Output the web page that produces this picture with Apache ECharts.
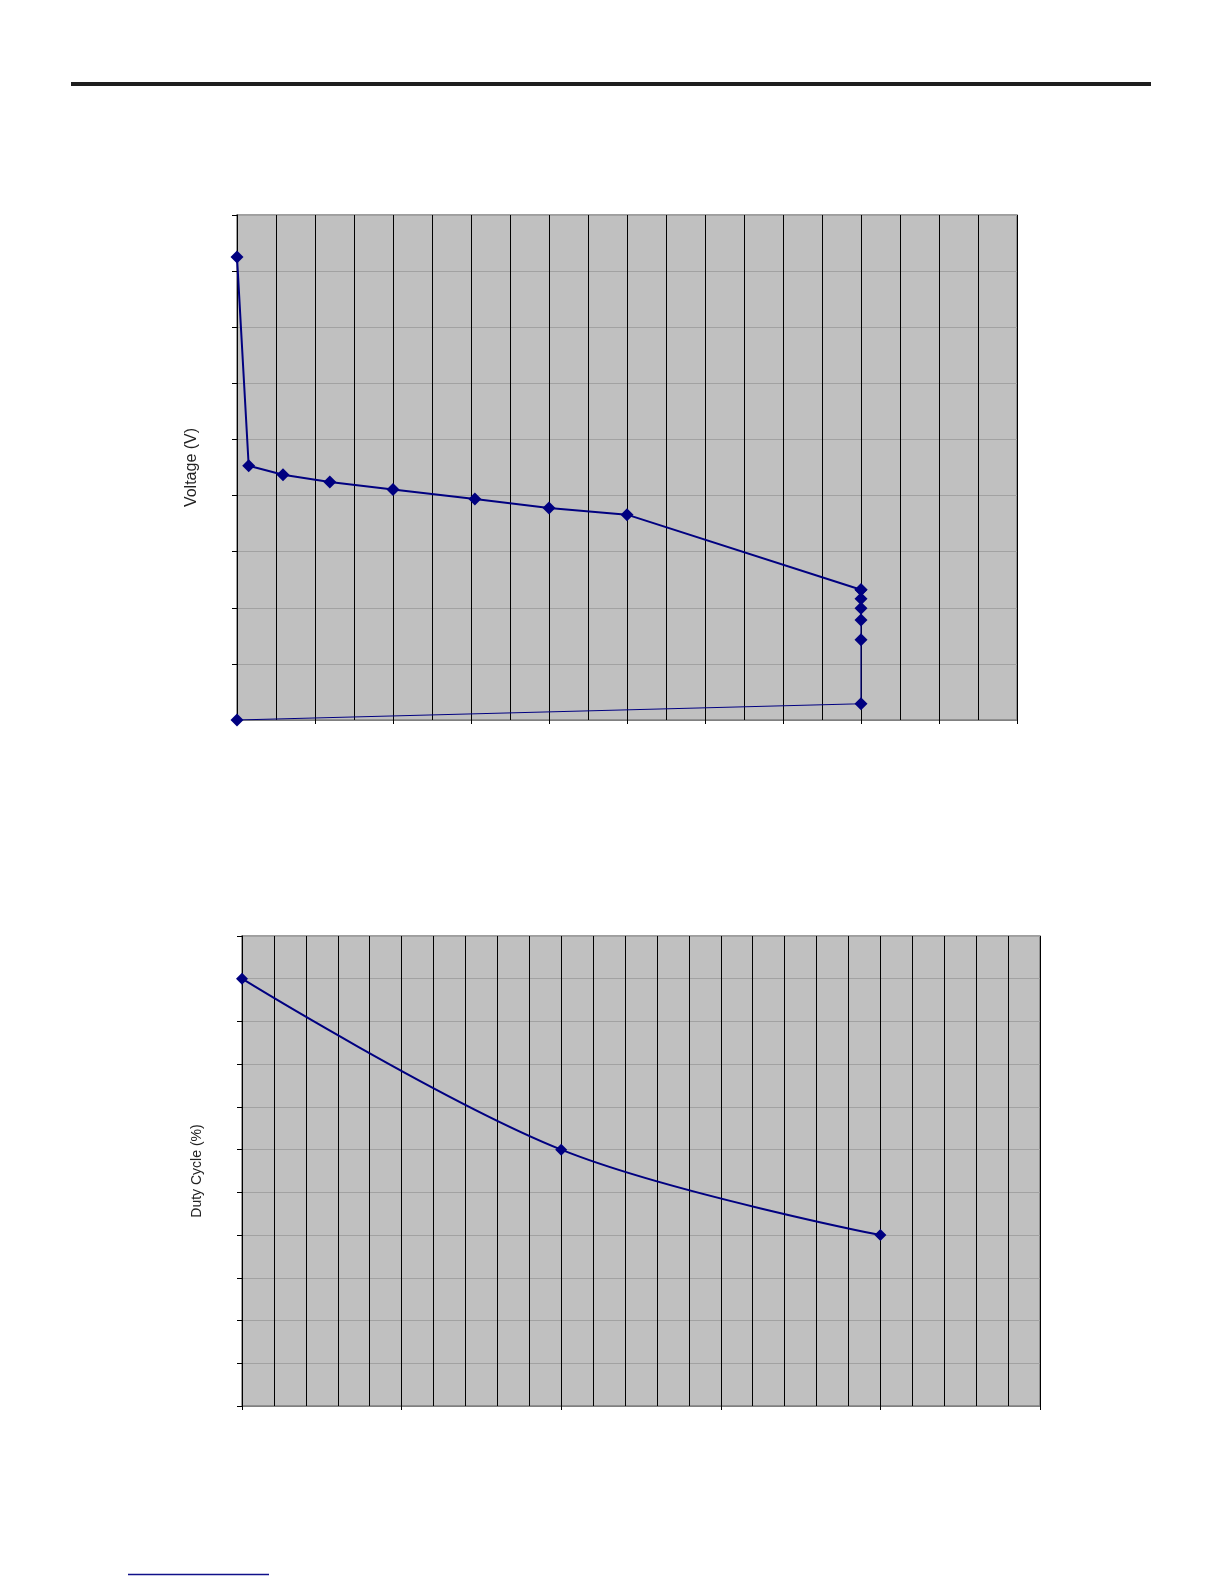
<!DOCTYPE html>
<html>
<head>
<meta charset="utf-8">
<script src="https://cdn.jsdelivr.net/npm/echarts@6/dist/echarts.min.js"></script>
<style>
html,body{margin:0;padding:0;background:#fff;}
#chart{width:1224px;height:1584px;}
</style>
</head>
<body>
<div id="chart"></div>
<script>
// Chart 1: Voltage (V) vs unlabeled x (gridline units)
const voltageX = [0, 0.3, 1.18, 2.38, 4.0, 6.1, 8.0, 10.0, 16.0, 16.0, 16.0, 16.0, 16.0, 16.0, 0];
const voltageY = [8.25, 4.53, 4.37, 4.24, 4.11, 3.94, 3.78, 3.66, 2.32, 2.16, 1.99, 1.78, 1.43, 0.29, 0];
// Chart 2: Duty Cycle (%) vs unlabeled x
const dutyX = [0, 10, 20];
const dutyY = [10, 6, 4];

const voltageTitle = 'Voltage (V)';
const dutyTitle = 'Duty Cycle (%)';

const pairs = (xs, ys) => xs.map((x, i) => [x, ys[i]]);
const vPts = pairs(voltageX, voltageY);
const splitIdx = 8;

const navy = '#000080';
const plotBg = '#c0c0c0';
const hGrid = '#a2a2a2';

function xAxisCfg(gridIndex, max, interval, minorSplit) {
  return {
    type: 'value', gridIndex: gridIndex, min: 0, max: max, interval: interval,
    axisLine: {show: true, lineStyle: {color: '#808080', width: 1}},
    axisTick: {show: true, length: 4, lineStyle: {color: '#000'}},
    axisLabel: {show: false},
    splitLine: {show: true, lineStyle: {color: '#000', width: 1}},
    minorTick: {show: false, splitNumber: minorSplit},
    minorSplitLine: {show: true, lineStyle: {color: '#000', width: 1}}
  };
}
function yAxisCfg(gridIndex, max, name, gap, fs) {
  return {
    type: 'value', gridIndex: gridIndex, min: 0, max: max, interval: 1,
    name: name, nameLocation: 'middle', nameRotate: 90, nameGap: gap,
    nameTextStyle: {fontFamily: 'Liberation Sans, Arial, sans-serif', fontSize: fs, color: '#222'},
    axisLine: {show: true, lineStyle: {color: '#000', width: 1}},
    axisTick: {show: true, length: 5, lineStyle: {color: '#000'}},
    axisLabel: {show: false},
    splitLine: {show: true, lineStyle: {color: hGrid, width: 1}}
  };
}

const chart = echarts.init(document.getElementById('chart'), null, {renderer: 'canvas'});
chart.setOption({
  animation: false,
  backgroundColor: '#fff',
  grid: [
    {left: 237, top: 215, width: 780, height: 505, show: true, backgroundColor: plotBg, borderColor: '#808080', borderWidth: 1.5},
    {left: 242, top: 936, width: 798, height: 470, show: true, backgroundColor: plotBg, borderColor: '#808080', borderWidth: 1.5}
  ],
  xAxis: [xAxisCfg(0, 20, 2, 2), xAxisCfg(1, 25, 5, 5)],
  yAxis: [yAxisCfg(0, 9, voltageTitle, 37, 16), yAxisCfg(1, 11, dutyTitle, 38, 14)],
  series: [
    {type: 'line', xAxisIndex: 0, yAxisIndex: 0, data: vPts.slice(0, splitIdx + 1),
     symbol: 'diamond', symbolSize: 13, itemStyle: {color: navy}, lineStyle: {color: navy, width: 2}, z: 3},
    {type: 'line', xAxisIndex: 0, yAxisIndex: 0, data: vPts.slice(splitIdx),
     symbol: 'diamond', symbolSize: 13, itemStyle: {color: navy}, lineStyle: {color: navy, width: 1.2}, z: 2},
    {type: 'line', xAxisIndex: 1, yAxisIndex: 1, data: pairs(dutyX, dutyY), smooth: 0.35,
     symbol: 'diamond', symbolSize: 12, itemStyle: {color: navy}, lineStyle: {color: navy, width: 2}}
  ],
  graphic: [
    {type: 'rect', shape: {x: 71, y: 82, width: 1080, height: 4}, style: {fill: '#1e1e1e'}},
    {type: 'line', shape: {x1: 128, y1: 1574.5, x2: 269, y2: 1574.5}, style: {stroke: '#10108a', lineWidth: 1.5}}
  ]
});
</script>
</body>
</html>
